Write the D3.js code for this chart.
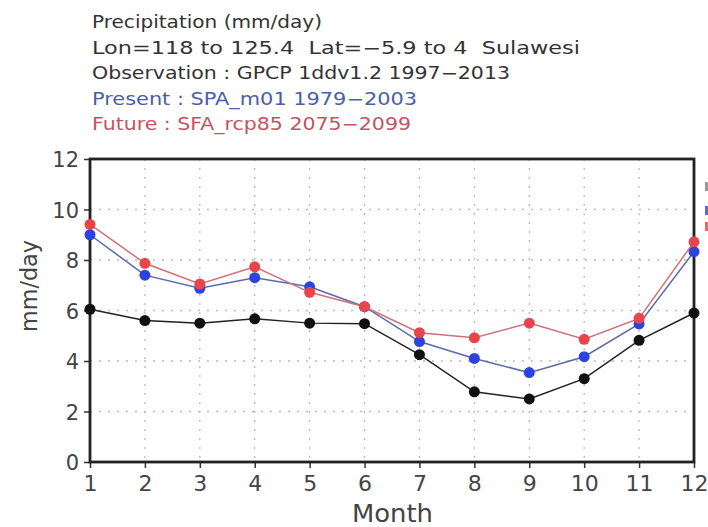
<!DOCTYPE html>
<html>
<head>
<meta charset="utf-8">
<script src="https://cdn.jsdelivr.net/npm/d3@7"></script>
<style>
  body { margin: 0; background: #fff; }
  svg { display: block; font-family: "DejaVu Sans", sans-serif; }
  .title { white-space: pre; }
</style>
</head>
<body>
<svg id="drawing_region"></svg>
<script>
// monthly precipitation, mm/day
const months = [1, 2, 3, 4, 5, 6, 7, 8, 9, 10, 11, 12];
const observation = [6.05, 5.6, 5.5, 5.67, 5.5, 5.48, 4.25, 2.78, 2.5, 3.3, 4.82, 5.9];
const present = [9.0, 7.4, 6.88, 7.3, 6.94, 6.15, 4.77, 4.1, 3.54, 4.17, 5.47, 8.33];
const future = [9.41, 7.87, 7.05, 7.73, 6.72, 6.15, 5.12, 4.92, 5.5, 4.86, 5.69, 8.72];
const yTicks = [0, 2, 4, 6, 8, 10, 12];
const titleLines = [
    "Precipitation (mm/day)",
    "Lon=118 to 125.4  Lat=\u22125.9 to 4  Sulawesi",
    "Observation : GPCP 1ddv1.2 1997\u22122013",
    "Present : SPA_m01 1979\u22122003",
    "Future : SFA_rcp85 2075\u22122099"
];
const titleColors = ["#333", "#333", "#333", "#4a5ea8", "#c25560"];
const titleWidths = [230, 488, 418, 325, 319];

const config = {
    width: 708,
    height: 527,
    margin: {top: 159, right: 14, bottom: 65, left: 90}
};

const svg = d3.select('#drawing_region')
    .attr('width', config.width)
    .attr('height', config.height);

const inner_width = config.width - config.margin.left - config.margin.right;
const inner_height = config.height - config.margin.top - config.margin.bottom;

const chart = svg.append('g')
    .attr('transform', `translate(${config.margin.left}, ${config.margin.top})`);

const xscale = d3.scaleLinear().domain([1, 12]).range([0, inner_width]);
const yscale = d3.scaleLinear().domain([0, 12]).range([inner_height, 0]);

// title block
svg.selectAll('.title')
    .data(titleLines)
    .join('text')
    .attr('class', 'title')
    .attr('x', 92)
    .attr('y', (d, i) => 28 + i * 25.5)
    .attr('font-size', '17px')
    .attr('fill', (d, i) => titleColors[i])
    .attr('textLength', (d, i) => titleWidths[i])
    .attr('lengthAdjust', 'spacingAndGlyphs')
    .text(d => d);

// grid
chart.append('g')
    .selectAll('line')
    .data(yTicks.slice(1, -1))
    .join('line')
    .attr('x1', 0).attr('x2', inner_width)
    .attr('y1', d => yscale(d)).attr('y2', d => yscale(d))
    .attr('stroke', '#bbb')
    .attr('stroke-width', 1.3)
    .attr('stroke-dasharray', '2,7');

chart.append('g')
    .selectAll('line')
    .data(months.slice(1, -1))
    .join('line')
    .attr('x1', d => xscale(d)).attr('x2', d => xscale(d))
    .attr('y1', 0).attr('y2', inner_height)
    .attr('stroke', '#bbb')
    .attr('stroke-width', 1.3)
    .attr('stroke-dasharray', '2,7');

// axes
const xaxis = d3.axisBottom(xscale).tickValues(months).tickFormat(d3.format('d'))
    .tickSize(6).tickSizeOuter(0).tickPadding(7);
const yaxis = d3.axisLeft(yscale).tickValues(yTicks)
    .tickSize(6).tickSizeOuter(0).tickPadding(5);

const xg = chart.append('g')
    .attr('transform', `translate(0, ${inner_height})`)
    .call(xaxis);
xg.selectAll('text').attr('font-size', '22px').attr('fill', '#444')
    .attr('font-family', '"DejaVu Sans", sans-serif');
xg.selectAll('line').attr('stroke', '#333').attr('stroke-width', 1.5);

const yg = chart.append('g').call(yaxis);
yg.selectAll('text').attr('font-size', '21px').attr('fill', '#444')
    .attr('font-family', '"DejaVu Sans", sans-serif').attr('dy', '0.36em');
yg.selectAll('line').attr('stroke', '#333').attr('stroke-width', 1.5);
chart.selectAll('.domain').remove();

// frame
chart.append('rect')
    .attr('width', inner_width)
    .attr('height', inner_height)
    .attr('fill', 'none')
    .attr('stroke', '#222')
    .attr('stroke-width', 2.8);

// axis labels
svg.append('text')
    .attr('x', 352)
    .attr('y', 522)
    .attr('font-size', '25px')
    .attr('fill', '#444')
    .attr('textLength', 81)
    .attr('lengthAdjust', 'spacingAndGlyphs')
    .text('Month');

svg.append('text')
    .attr('transform', `translate(37, 286) rotate(-90)`)
    .attr('text-anchor', 'middle')
    .attr('font-size', '23px')
    .attr('fill', '#444')
    .attr('textLength', 92)
    .attr('lengthAdjust', 'spacingAndGlyphs')
    .text('mm/day');

// series
const series = [
    {values: observation, line: '#222', dot: '#111'},
    {values: present, line: '#5a6aa8', dot: '#2d43e0'},
    {values: future, line: '#d07078', dot: '#e8444c'}
];

const line = d3.line()
    .x((d, i) => xscale(months[i]))
    .y(d => yscale(d));

series.forEach(s => {
    chart.append('path')
        .datum(s.values)
        .attr('d', line)
        .attr('fill', 'none')
        .attr('stroke', s.line)
        .attr('stroke-width', 1.5);
    chart.append('g')
        .selectAll('circle')
        .data(s.values)
        .join('circle')
        .attr('cx', (d, i) => xscale(months[i]))
        .attr('cy', d => yscale(d))
        .attr('r', 5.5)
        .attr('fill', s.dot);
});

// clipped legend fragments at the right edge
svg.selectAll('.legfrag')
    .data([{y: 182, c: '#999'}, {y: 206, c: '#5a6ad0'}, {y: 222, c: '#e06870'}])
    .join('rect')
    .attr('x', 705)
    .attr('y', d => d.y)
    .attr('width', 3)
    .attr('height', 9)
    .attr('fill', d => d.c);
</script>
</body>
</html>
